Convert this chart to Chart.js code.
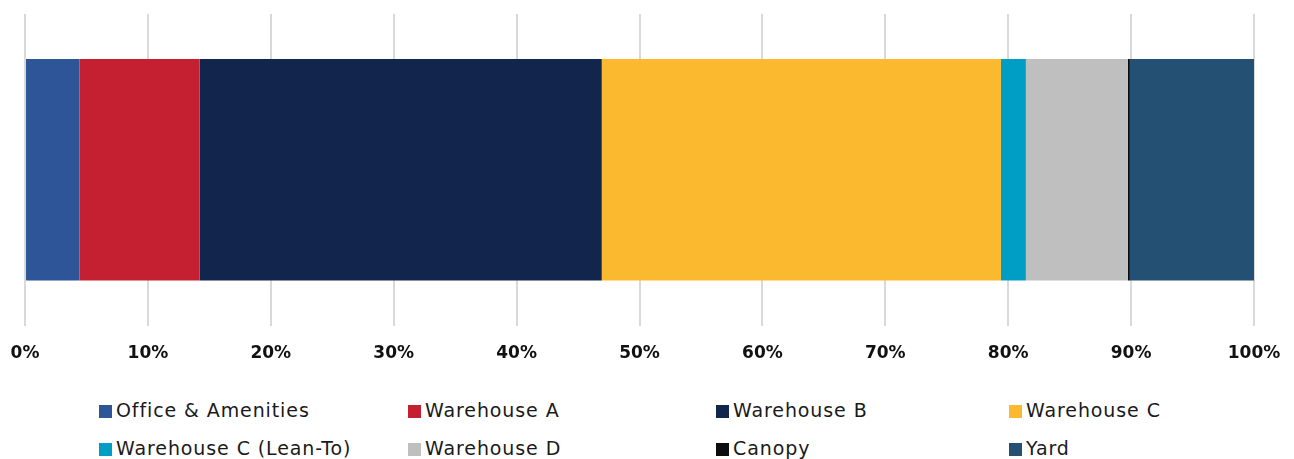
<!DOCTYPE html>
<html>
<head>
<meta charset="utf-8">
<script src="https://cdn.jsdelivr.net/npm/chart.js@4"></script>
<style>
  html, body { margin: 0; padding: 0; background: #ffffff; }
  body { width: 1294px; height: 459px; position: relative; overflow: hidden; }
  #wrap { position: absolute; left: 0; top: 0; width: 1294px; height: 382px; }
  #legend { position: absolute; left: 0; top: 398px; width: 1294px; height: 61px;
            font-family: "DejaVu Sans", sans-serif; font-size: 19px; letter-spacing: 0.9px; color: #1a1a1a; }
  .item { position: absolute; white-space: nowrap; height: 24px; line-height: 24px; }
  .box { display: inline-block; width: 13px; height: 13px; margin-right: 4px; vertical-align: -1px; }
</style>
</head>
<body>
<div id="wrap"><canvas id="c"></canvas></div>
<div id="legend"></div>
<script>
const categories = [""];
const seriesNames = ["Office & Amenities", "Warehouse A", "Warehouse B", "Warehouse C",
                     "Warehouse C (Lean-To)", "Warehouse D", "Canopy", "Yard"];
const officeAmenities = [4.44];
const warehouseA = [9.77];
const warehouseB = [32.72];
const warehouseC = [32.48];
const warehouseCLeanTo = [2.03];
const warehouseD = [8.30];
const canopy = [0.16];
const yard = [10.10];
const tickLabels = ["0%", "10%", "20%", "30%", "40%", "50%", "60%", "70%", "80%", "90%", "100%"];

const seriesValues = [officeAmenities, warehouseA, warehouseB, warehouseC, warehouseCLeanTo, warehouseD, canopy, yard];
const colors = ["#2E5597", "#C42032", "#12264D", "#FBB92F", "#009EC4", "#BFBFBF", "#0D0D0D", "#245073"];

const datasets = seriesNames.map((name, i) => ({
  label: name,
  data: seriesValues[i],
  backgroundColor: colors[i],
  borderWidth: 0,
  barPercentage: 0.79,
  categoryPercentage: 0.9
}));

new Chart(document.getElementById("c"), {
  type: "bar",
  data: { labels: categories, datasets },
  options: {
    indexAxis: "y",
    responsive: true,
    maintainAspectRatio: false,
    animation: false,
    layout: { padding: { left: 25, right: 40, top: 14, bottom: 0 } },
    plugins: { legend: { display: false }, tooltip: { enabled: false } },
    scales: {
      x: {
        stacked: true,
        min: 0, max: 100,
        afterFit: (s) => { s.paddingLeft = 0; s.paddingRight = 0; },
        ticks: {
          stepSize: 10,
          padding: 18,
          color: "#111111",
          font: { family: "DejaVu Sans", size: 17, weight: "bold" },
          callback: (v, i) => tickLabels[i]
        },
        grid: { color: "#D9D9D9", lineWidth: 2, drawTicks: false },
        border: { display: false }
      },
      y: { stacked: true, display: false }
    }
  }
});

// HTML legend built from series names and colours
const legendPos = [[99, 0], [408, 0], [716, 0], [1009, 0], [99, 38], [408, 38], [716, 38], [1009, 38]];
const legendEl = document.getElementById("legend");
seriesNames.forEach((name, i) => {
  const d = document.createElement("div");
  d.className = "item";
  d.style.left = legendPos[i][0] + "px";
  d.style.top = legendPos[i][1] + "px";
  const b = document.createElement("span");
  b.className = "box";
  b.style.background = colors[i];
  d.appendChild(b);
  d.appendChild(document.createTextNode(name));
  legendEl.appendChild(d);
});
</script>
</body>
</html>
